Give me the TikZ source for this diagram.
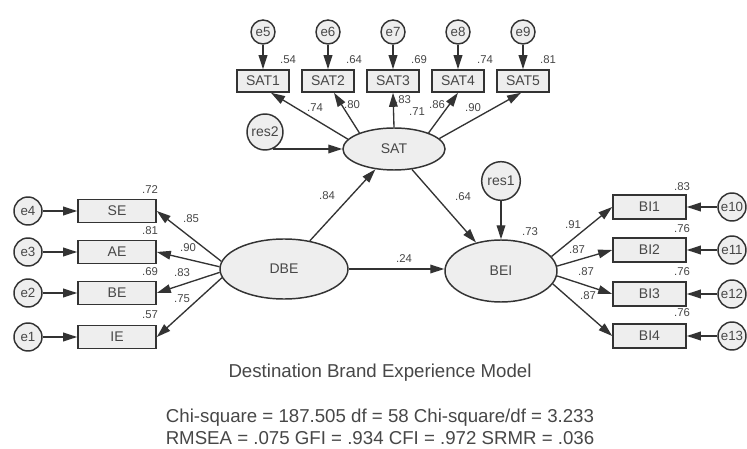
\documentclass[tikz,border=0pt]{standalone}
\usepackage{fontspec}
\setmainfont{Liberation Sans}
\usetikzlibrary{shapes.geometric,arrows.meta,calc}
\definecolor{linecol}{HTML}{333333}
\definecolor{txtcol}{HTML}{474747}
\definecolor{fillcol}{HTML}{EEEEEE}
\begin{document}
\begin{tikzpicture}[x=0.75pt,y=-0.75pt,
  every node/.style={text=txtcol},
  obs/.style={draw=linecol,line width=1.2pt,fill=fillcol,rectangle,inner sep=0pt,font=\fontsize{10.5}{12}\selectfont},
  topbox/.style={obs,minimum width=39pt,minimum height=16.5pt},
  leftbox/.style={obs,minimum width=58.5pt,minimum height=17.25pt},
  rightbox/.style={obs,minimum width=54.75pt,minimum height=18pt},
  lat/.style={draw=linecol,line width=1.1pt,fill=fillcol,ellipse,inner sep=0pt,font=\fontsize{10.5}{12}\selectfont},
  err/.style={draw=linecol,line width=1.1pt,fill=fillcol,circle,inner sep=0pt,font=\fontsize{10}{12}\selectfont},
  coef/.style={inner sep=0pt,font=\fontsize{8.5}{10}\selectfont},
  arr/.style={draw=linecol,line width=1pt,-{Triangle[length=10.5pt,width=6.5pt]}},
  captxt/.style={inner sep=0pt,font=\fontsize{14}{16}\selectfont}]
\useasboundingbox (0,0) rectangle (747,449);
\fill[white] (0,0) rectangle (747,449);

% top indicators
\foreach \i/\x in {1/263,2/328,3/393,4/458,5/523}{
  \node[topbox] (SAT\i) at (\x,81) {SAT\i};
}
\foreach \i/\x in {5/263,6/328,7/393,8/458,9/523}{
  \node[err,minimum size=18pt] (e\i) at (\x,32) {e\i};
}
% left indicators
\node[leftbox] (SE) at (117,211) {SE};
\node[leftbox] (AE) at (117,252) {AE};
\node[leftbox] (BE) at (117,293) {BE};
\node[leftbox] (IE) at (117,337) {IE};
\node[err,minimum size=21pt] (e4) at (28,211) {e4};
\node[err,minimum size=21pt] (e3) at (28,252) {e3};
\node[err,minimum size=21pt] (e2) at (28,293) {e2};
\node[err,minimum size=21pt] (e1) at (28,337) {e1};
% right indicators
\node[rightbox] (BI1) at (649.5,207) {BI1};
\node[rightbox] (BI2) at (649.5,250) {BI2};
\node[rightbox] (BI3) at (649.5,294) {BI3};
\node[rightbox] (BI4) at (649.5,336) {BI4};
\node[err,minimum size=21pt] (e10) at (732,207) {e10};
\node[err,minimum size=21pt] (e11) at (732,250) {e11};
\node[err,minimum size=21pt] (e12) at (732,294) {e12};
\node[err,minimum size=21pt] (e13) at (732,336) {e13};
% latents
\node[lat,minimum width=76.5pt,minimum height=31.5pt] (SAT) at (394,149) {SAT};
\node[lat,minimum width=96pt,minimum height=45pt] (DBE) at (284,269) {DBE};
\node[lat,minimum width=84pt,minimum height=46.5pt] (BEI) at (501,271) {BEI};
\node[err,minimum size=27pt,font=\fontsize{10.5}{12}\selectfont] (res2) at (265,132) {res2};
\node[err,minimum size=29pt,font=\fontsize{10.5}{12}\selectfont] (res1) at (501,181) {res1};

% arrows top
\foreach \i/\j in {5/1,6/2,7/3,8/4,9/5}{
  \draw[arr] (e\i) -- (SAT\j);
}
\draw[arr] (SAT.168) -- ([xshift=6pt]SAT1.south);
\draw[arr] (SAT.155) -- ([xshift=4.5pt]SAT2.south);
\draw[arr] (SAT.90) -- (SAT3.south);
\draw[arr] (SAT.25) -- (SAT4.south);
\draw[arr] (SAT.13) -- ([xshift=-1.5pt]SAT5.south);
\draw[arr] (res2.-65) -- (res2.-65 -| SAT.west);
% structural
\draw[arr] (DBE) -- (SAT);
\draw[arr] (SAT) -- (BEI);
\draw[arr] (DBE.east) -- (DBE.east -| BEI.west);
\draw[arr] (res1) -- (BEI);
% left
\draw[arr] (DBE.173) -- (SE.east);
\draw[arr] (DBE.178) -- (AE.east);
\draw[arr] (DBE.183) -- (BE.east);
\draw[arr] (DBE.188) -- (IE.east);
\draw[arr] (e4) -- (SE);
\draw[arr] (e3) -- (AE);
\draw[arr] (e2) -- (BE);
\draw[arr] (e1) -- (IE);
% right
\draw[arr] (BEI.16) -- (BI1.west);
\draw[arr] (BEI.5) -- (BI2.west);
\draw[arr] (BEI.-5) -- (BI3.west);
\draw[arr] (BEI.-14) -- (BI4.west);
\draw[arr] (e10) -- (BI1);
\draw[arr] (e11) -- (BI2);
\draw[arr] (e12) -- (BI3);
\draw[arr] (e13) -- (BI4);

% coefficients
\node[coef] (c1) at (288,60) {.54};
\node[coef] (c2) at (354,60) {.64};
\node[coef] (c3) at (419,60) {.69};
\node[coef] (c4) at (485,60) {.74};
\node[coef] (c5) at (548,60) {.81};
\node[coef] (c6) at (315,108) {.74};
\node[coef] (c7) at (352,105) {.80};
\node[coef] (c8) at (403,100) {.83};
\node[coef] (c9) at (417,112) {.71};
\node[coef] (c10) at (437,105) {.86};
\node[coef] (c11) at (473,108) {.90};
\node[coef] (c12) at (150,190) {.72};
\node[coef] (c13) at (150,231) {.81};
\node[coef] (c14) at (150,272) {.69};
\node[coef] (c15) at (150,315) {.57};
\node[coef] (c16) at (191,219) {.85};
\node[coef] (c17) at (188,248) {.90};
\node[coef] (c18) at (182,273) {.83};
\node[coef] (c19) at (182,299) {.75};
\node[coef] (c20) at (327,196) {.84};
\node[coef] (c21) at (404,259) {.24};
\node[coef] (c22) at (463,197) {.64};
\node[coef] (c23) at (530,232) {.73};
\node[coef] (c24) at (573,225) {.91};
\node[coef] (c25) at (577,250) {.87};
\node[coef] (c26) at (586,272) {.87};
\node[coef] (c27) at (588,296) {.87};
\node[coef] (c28) at (682,187) {.83};
\node[coef] (c29) at (682,229) {.76};
\node[coef] (c30) at (682,272) {.76};
\node[coef] (c31) at (682,313) {.76};

% captions
\node[captxt] (t1) at (380,373) {Destination Brand Experience Model};
\node[captxt] (t2) at (380,418) {Chi-square = 187.505 df = 58 Chi-square/df = 3.233};
\node[captxt] (t3) at (380,438) {RMSEA = .075 GFI = .934 CFI = .972 SRMR = .036};
\end{tikzpicture}
\end{document}
